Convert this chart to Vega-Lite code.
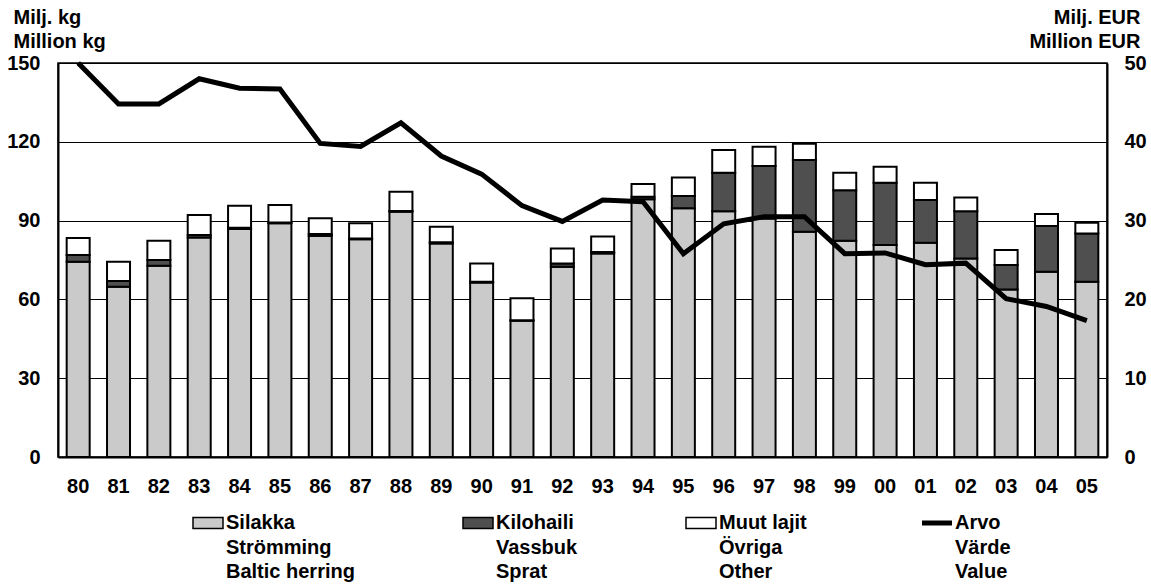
{
  "$schema": "https://vega.github.io/schema/vega-lite/v6.json",
  "width": 1049,
  "height": 394,
  "autosize": "none",
  "padding": {"left": 58, "top": 63, "right": 44, "bottom": 128},
  "background": "white",
  "config": {
    "font": "Liberation Sans",
    "view": {"stroke": "black", "strokeWidth": 1.5},
    "axis": {"labelFont": "Liberation Sans", "titleFont": "Liberation Sans", "labelColor": "black", "titleColor": "black", "domainColor": "black", "domainWidth": 2, "ticks": false, "labelFontSize": 20, "labelFontWeight": "bold", "titleFontSize": 20, "titleFontWeight": "bold"},
    "legend": {"labelFont": "Liberation Sans", "labelFontSize": 20, "labelFontWeight": "bold", "labelColor": "black"}
  },
  "datasets": {
    "bars": [
      {"year": "80", "series": "Silakka", "value": 74.3}, {"year": "80", "series": "Kilohaili", "value": 2.6}, {"year": "80", "series": "Muut lajit", "value": 6.5},
      {"year": "81", "series": "Silakka", "value": 64.8}, {"year": "81", "series": "Kilohaili", "value": 2.2}, {"year": "81", "series": "Muut lajit", "value": 7.3},
      {"year": "82", "series": "Silakka", "value": 72.8}, {"year": "82", "series": "Kilohaili", "value": 2.2}, {"year": "82", "series": "Muut lajit", "value": 7.3},
      {"year": "83", "series": "Silakka", "value": 83.6}, {"year": "83", "series": "Kilohaili", "value": 0.9}, {"year": "83", "series": "Muut lajit", "value": 7.6},
      {"year": "84", "series": "Silakka", "value": 86.8}, {"year": "84", "series": "Kilohaili", "value": 0.5}, {"year": "84", "series": "Muut lajit", "value": 8.4},
      {"year": "85", "series": "Silakka", "value": 89.0}, {"year": "85", "series": "Kilohaili", "value": 0.3}, {"year": "85", "series": "Muut lajit", "value": 6.6},
      {"year": "86", "series": "Silakka", "value": 84.2}, {"year": "86", "series": "Kilohaili", "value": 0.7}, {"year": "86", "series": "Muut lajit", "value": 6.0},
      {"year": "87", "series": "Silakka", "value": 82.9}, {"year": "87", "series": "Kilohaili", "value": 0.3}, {"year": "87", "series": "Muut lajit", "value": 5.8},
      {"year": "88", "series": "Silakka", "value": 93.4}, {"year": "88", "series": "Kilohaili", "value": 0.3}, {"year": "88", "series": "Muut lajit", "value": 7.3},
      {"year": "89", "series": "Silakka", "value": 81.3}, {"year": "89", "series": "Kilohaili", "value": 0.5}, {"year": "89", "series": "Muut lajit", "value": 5.9},
      {"year": "90", "series": "Silakka", "value": 66.4}, {"year": "90", "series": "Kilohaili", "value": 0.3}, {"year": "90", "series": "Muut lajit", "value": 7.0},
      {"year": "91", "series": "Silakka", "value": 51.9}, {"year": "91", "series": "Kilohaili", "value": 0.2}, {"year": "91", "series": "Muut lajit", "value": 8.3},
      {"year": "92", "series": "Silakka", "value": 72.4}, {"year": "92", "series": "Kilohaili", "value": 1.3}, {"year": "92", "series": "Muut lajit", "value": 5.7},
      {"year": "93", "series": "Silakka", "value": 77.5}, {"year": "93", "series": "Kilohaili", "value": 0.5}, {"year": "93", "series": "Muut lajit", "value": 5.9},
      {"year": "94", "series": "Silakka", "value": 98.1}, {"year": "94", "series": "Kilohaili", "value": 1.0}, {"year": "94", "series": "Muut lajit", "value": 4.8},
      {"year": "95", "series": "Silakka", "value": 94.7}, {"year": "95", "series": "Kilohaili", "value": 4.7}, {"year": "95", "series": "Muut lajit", "value": 7.0},
      {"year": "96", "series": "Silakka", "value": 93.6}, {"year": "96", "series": "Kilohaili", "value": 14.6}, {"year": "96", "series": "Muut lajit", "value": 8.7},
      {"year": "97", "series": "Silakka", "value": 90.8}, {"year": "97", "series": "Kilohaili", "value": 20.0}, {"year": "97", "series": "Muut lajit", "value": 7.3},
      {"year": "98", "series": "Silakka", "value": 85.8}, {"year": "98", "series": "Kilohaili", "value": 27.3}, {"year": "98", "series": "Muut lajit", "value": 6.2},
      {"year": "99", "series": "Silakka", "value": 82.3}, {"year": "99", "series": "Kilohaili", "value": 19.3}, {"year": "99", "series": "Muut lajit", "value": 6.6},
      {"year": "00", "series": "Silakka", "value": 80.7}, {"year": "00", "series": "Kilohaili", "value": 23.7}, {"year": "00", "series": "Muut lajit", "value": 6.1},
      {"year": "01", "series": "Silakka", "value": 81.6}, {"year": "01", "series": "Kilohaili", "value": 16.2}, {"year": "01", "series": "Muut lajit", "value": 6.6},
      {"year": "02", "series": "Silakka", "value": 75.6}, {"year": "02", "series": "Kilohaili", "value": 18.0}, {"year": "02", "series": "Muut lajit", "value": 5.2},
      {"year": "03", "series": "Silakka", "value": 63.8}, {"year": "03", "series": "Kilohaili", "value": 9.3}, {"year": "03", "series": "Muut lajit", "value": 5.7},
      {"year": "04", "series": "Silakka", "value": 70.5}, {"year": "04", "series": "Kilohaili", "value": 17.4}, {"year": "04", "series": "Muut lajit", "value": 4.6},
      {"year": "05", "series": "Silakka", "value": 66.7}, {"year": "05", "series": "Kilohaili", "value": 18.4}, {"year": "05", "series": "Muut lajit", "value": 4.1}
    ],
    "line": [
      {"year": "80", "series": "Arvo", "value": 50.0}, {"year": "81", "series": "Arvo", "value": 44.8}, {"year": "82", "series": "Arvo", "value": 44.8},
      {"year": "83", "series": "Arvo", "value": 48.0}, {"year": "84", "series": "Arvo", "value": 46.8}, {"year": "85", "series": "Arvo", "value": 46.7},
      {"year": "86", "series": "Arvo", "value": 39.8}, {"year": "87", "series": "Arvo", "value": 39.4}, {"year": "88", "series": "Arvo", "value": 42.4},
      {"year": "89", "series": "Arvo", "value": 38.2}, {"year": "90", "series": "Arvo", "value": 35.9}, {"year": "91", "series": "Arvo", "value": 31.9},
      {"year": "92", "series": "Arvo", "value": 29.9}, {"year": "93", "series": "Arvo", "value": 32.6}, {"year": "94", "series": "Arvo", "value": 32.4},
      {"year": "95", "series": "Arvo", "value": 25.8}, {"year": "96", "series": "Arvo", "value": 29.6}, {"year": "97", "series": "Arvo", "value": 30.5},
      {"year": "98", "series": "Arvo", "value": 30.5}, {"year": "99", "series": "Arvo", "value": 25.8}, {"year": "00", "series": "Arvo", "value": 25.9},
      {"year": "01", "series": "Arvo", "value": 24.4}, {"year": "02", "series": "Arvo", "value": 24.6}, {"year": "03", "series": "Arvo", "value": 20.1},
      {"year": "04", "series": "Arvo", "value": 19.1}, {"year": "05", "series": "Arvo", "value": 17.3}
    ]
  },
  "encoding": {
    "x": {"field": "year", "type": "nominal", "sort": null, "scale": {"paddingInner": 0.43, "paddingOuter": 0.215},
      "axis": {"title": null, "labelAngle": 0, "labelPadding": 19, "domainWidth": 2}}
  },
  "layer": [
    {
      "data": {"name": "bars"},
      "transform": [{"calculate": "indexof(['Silakka','Kilohaili','Muut lajit'], datum.series)", "as": "ord"}],
      "mark": {"type": "bar", "stroke": "black", "strokeWidth": 2, "strokeJoin": "miter"},
      "encoding": {
        "y": {"field": "value", "type": "quantitative", "stack": "zero",
          "scale": {"domain": [0, 150], "nice": false},
          "axis": {"values": [0, 30, 60, 90, 120, 150], "grid": true, "gridColor": "black", "gridOpacity": 1, "gridWidth": 1.2, "labelPadding": 18,
            "title": ["Milj. kg", "Million kg"], "titleAngle": 0, "titleAlign": "left", "titleBaseline": "alphabetic", "titleX": -45, "titleY": -40, "titleLineHeight": 24}},
        "color": {"field": "series", "type": "nominal",
          "scale": {"domain": ["Silakka", "Kilohaili", "Muut lajit", "Arvo"], "range": ["#cacaca", "#4f4f4f", "#ffffff", "#000000"]},
          "legend": {
            "title": null, "orient": "none", "legendX": 140, "legendY": 450, "direction": "horizontal", "columns": 4, "columnPadding": 105,
            "symbolSize": 900, "labelOffset": 8, "padding": 0, "symbolStrokeColor": "black", "symbolStrokeWidth": 1.5, "symbolOpacity": 1,
            "labelExpr": "datum.label == 'Silakka' ? ['Silakka','Strömming','Baltic herring'] : datum.label == 'Kilohaili' ? ['Kilohaili','Vassbuk','Sprat'] : datum.label == 'Muut lajit' ? ['Muut lajit','Övriga','Other'] : ['Arvo','Värde','Value']",
            "encode": {
              "labels": {"update": {"lineHeight": {"value": 24.5}}},
              "symbols": {"update": {
                "shape": {"signal": "datum.value == 'Arvo' ? 'M-1,0H1' : 'M-1,-0.37H1V0.37H-1Z'"},
                "fill": {"signal": "datum.value == 'Arvo' ? 'transparent' : scale('color', datum.value)"},
                "stroke": {"value": "black"},
                "strokeWidth": {"signal": "datum.value == 'Arvo' ? 5 : 1.5"},
                "opacity": {"value": 1}
              }}
            }
          }},
        "order": {"field": "ord", "type": "quantitative"}
      }
    },
    {
      "data": {"name": "line"},
      "mark": {"type": "line", "color": "black", "strokeWidth": 5, "strokeJoin": "miter"},
      "encoding": {
        "y": {"field": "value", "type": "quantitative",
          "scale": {"domain": [0, 50], "nice": false},
          "axis": {"orient": "right", "values": [0, 10, 20, 30, 40, 50], "grid": false, "labelPadding": 17,
            "title": ["Milj. EUR", "Million EUR"], "titleAngle": 0, "titleAlign": "right", "titleBaseline": "alphabetic", "titleX": 33, "titleY": -40, "titleLineHeight": 24}}
      }
    }
  ],
  "resolve": {"scale": {"y": "independent"}}
}
